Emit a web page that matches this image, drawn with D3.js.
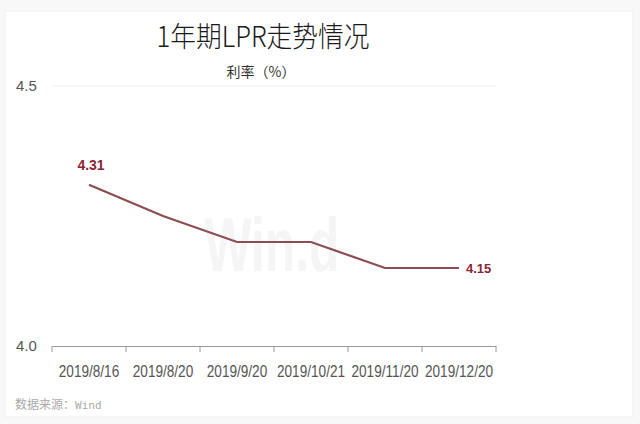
<!DOCTYPE html>
<html><head><meta charset="utf-8">
<script src="https://cdn.jsdelivr.net/npm/d3@7"></script>
<style>body{margin:0;background:#f7f7f7;}svg{display:block;}</style>
</head><body>
<script>
const categories = ["2019/8/16","2019/8/20","2019/9/20","2019/10/21","2019/11/20","2019/12/20"];
const values = [4.31, 4.25, 4.20, 4.20, 4.15, 4.15];
const yTicks = [4.0, 4.5];
const title = "1年期LPR走势情况";
const subtitle = "利率（%）";
const sourceLabel = "数据来源：";
const sourceName = "Wind";

const W = 640, H = 424;
const svg = d3.select("body").append("svg").attr("width", W).attr("height", H);
svg.append("rect").attr("x",0).attr("y",0).attr("width",W).attr("height",H).attr("fill","#f8f8f8");
svg.append("rect").attr("x",5).attr("y",11).attr("width",628).attr("height",406)
  .attr("fill","#ffffff").attr("stroke","#efefef");

const x = d3.scaleBand().domain(categories).range([52, 496]);
const y = d3.scaleLinear().domain([4.0, 4.5]).range([346, 86]);

// watermark
svg.append("text").attr("x", 272).attr("y", 271).attr("text-anchor","middle")
  .attr("font-family","Liberation Sans, Arial, sans-serif").attr("font-weight","bold")
  .attr("font-size", 76).attr("fill","#f5f5f5").attr("textLength", 135).attr("lengthAdjust","spacingAndGlyphs")
  .text("Win.d");

svg.append("text").attr("x", 263).attr("y", 47).attr("text-anchor","middle")
  .attr("font-family","Noto Sans CJK SC, sans-serif").attr("font-weight", 300).attr("font-size", 28).attr("fill","#1a1a1a")
  .attr("textLength", 213).attr("lengthAdjust","spacingAndGlyphs")
  .text(title);
svg.append("text").attr("x", 261).attr("y", 77).attr("text-anchor","middle")
  .attr("font-family","Noto Sans CJK SC, sans-serif").attr("font-size", 14).attr("fill","#333")
  .text(subtitle);

// top gridline
svg.append("line").attr("x1",52).attr("x2",496).attr("y1",y(4.5)).attr("y2",y(4.5))
  .attr("stroke","#eeeeee").attr("stroke-width",1);

// y tick labels
svg.selectAll(".ytl").data(yTicks).enter().append("text")
  .attr("x", 16).attr("y", d => y(d) + 5)
  .attr("font-family","Liberation Sans, Arial, sans-serif").attr("font-size", 15).attr("fill","#555")
  .text(d => d.toFixed(1));

// x axis
const xAxis = d3.axisBottom(x).tickSize(0).tickPadding(20);
const gx = svg.append("g").attr("transform","translate(0,346)").call(xAxis);
gx.select(".domain").attr("stroke","#9a9a9a");
gx.selectAll("text").attr("font-family","Liberation Sans, Arial, sans-serif").attr("font-size", 16).attr("fill","#555")
  .each(function(){ const w = this.getComputedTextLength(); d3.select(this).attr("textLength", w*0.85).attr("lengthAdjust","spacingAndGlyphs"); });
// band boundary ticks
const bounds = categories.map(c => x(c)).concat([x(categories[categories.length-1]) + x.bandwidth()]);
svg.selectAll(".btick").data(bounds).enter().append("line")
  .attr("x1", d => d).attr("x2", d => d).attr("y1", 346).attr("y2", 352)
  .attr("stroke","#9a9a9a");

// line
const line = d3.line().x((d,i) => x(categories[i]) + x.bandwidth()/2).y(d => y(d));
svg.append("path").datum(values).attr("d", line).attr("fill","none")
  .attr("stroke","#8c4c50").attr("stroke-width",2.2);

// labels
svg.append("text").attr("x", x(categories[0]) + x.bandwidth()/2 + 2).attr("y", y(values[0]) - 15)
  .attr("text-anchor","middle").attr("font-family","Liberation Sans, Arial, sans-serif")
  .attr("font-weight","bold").attr("font-size", 14).attr("fill","#8b2535").text(values[0].toFixed(2));
const li = values.length - 1;
svg.append("text").attr("x", x(categories[li]) + x.bandwidth()/2 + 7).attr("y", y(values[li]) + 5)
  .attr("font-family","Liberation Sans, Arial, sans-serif")
  .attr("font-weight","bold").attr("font-size", 13).attr("fill","#8b2535").text(values[li].toFixed(2));

const src = svg.append("text").attr("x", 15).attr("y", 409)
  .attr("font-family","Noto Sans CJK SC, sans-serif").attr("font-size", 12).attr("fill","#aaa");
src.append("tspan").text(sourceLabel);
src.append("tspan").attr("font-family","DejaVu Sans Mono, Liberation Mono, monospace").attr("font-size", 11).text(sourceName);
</script>
</body></html>
